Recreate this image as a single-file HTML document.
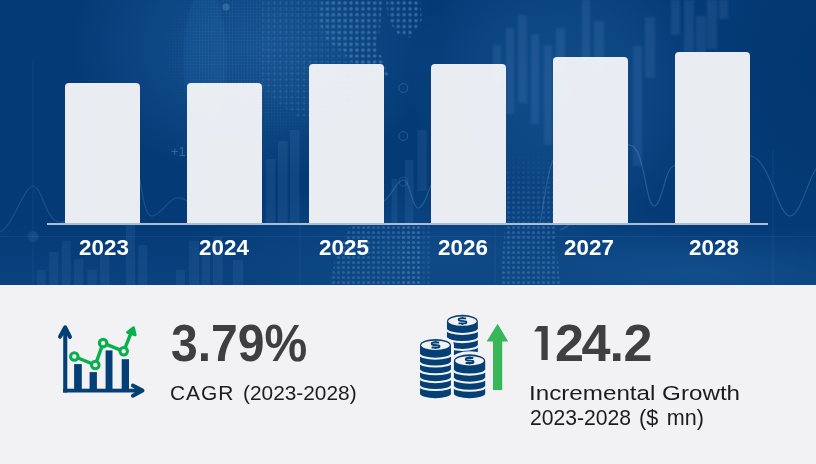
<!DOCTYPE html>
<html><head><meta charset="utf-8">
<style>
*{margin:0;padding:0;box-sizing:border-box}
html,body{width:816px;height:464px;overflow:hidden;background:#f2f2f4;font-family:"Liberation Sans",sans-serif}
#top{position:absolute;left:0;top:0;width:816px;height:285px;overflow:hidden;
 background:#073c79}
#bg{position:absolute;left:0;top:0;filter:blur(0.5px)}
.bar{position:absolute;width:75px;background:rgba(242,244,247,0.965);border-radius:4px 4px 0 0;bottom:62px}
#axis{position:absolute;left:47px;top:223px;width:721px;height:2px;background:#aabdd6}
.yr{position:absolute;top:236px;width:122px;text-align:center;color:#fff;font-weight:bold;font-size:21.5px;line-height:24px;transform:scaleX(1.04)}
.big{position:absolute;color:#3f3f3f;font-weight:bold;font-size:52px;line-height:52px;white-space:nowrap;transform-origin:0 0}
.lbl{position:absolute;color:#1c1c1c;font-size:20.5px;line-height:25.5px;white-space:nowrap;transform-origin:0 0}
svg.icon{position:absolute;left:0;top:0}
</style></head><body>
<div id="top">
 <svg id="bg" width="816" height="285" viewBox="0 0 816 285">
<defs>
<radialGradient id="g1" cx="0" cy="0" r="1" gradientUnits="userSpaceOnUse" gradientTransform="translate(255 45) scale(185 135)">
 <stop offset="0" stop-color="#2b6fb0" stop-opacity="0.42"/>
 <stop offset="0.6" stop-color="#2b6fb0" stop-opacity="0.2"/>
 <stop offset="1" stop-color="#2b6fb0" stop-opacity="0"/>
</radialGradient>
<radialGradient id="g2" cx="0" cy="0" r="1" gradientUnits="userSpaceOnUse" gradientTransform="translate(560 90) scale(150 150)">
 <stop offset="0" stop-color="#2b6fb0" stop-opacity="0.36"/>
 <stop offset="0.6" stop-color="#2b6fb0" stop-opacity="0.18"/>
 <stop offset="1" stop-color="#2b6fb0" stop-opacity="0"/>
</radialGradient>
<radialGradient id="g3" cx="0" cy="0" r="1" gradientUnits="userSpaceOnUse" gradientTransform="translate(450 250) scale(260 70)">
 <stop offset="0" stop-color="#2b6fb0" stop-opacity="0.25"/>
 <stop offset="1" stop-color="#2b6fb0" stop-opacity="0"/>
</radialGradient>
<radialGradient id="gr" cx="0" cy="0" r="1" gradientUnits="userSpaceOnUse" gradientTransform="translate(830 60) scale(130 170)">
 <stop offset="0" stop-color="#022f5e" stop-opacity="0.4"/>
 <stop offset="1" stop-color="#022f5e" stop-opacity="0"/>
</radialGradient>
<radialGradient id="g4" cx="0" cy="0" r="1" gradientUnits="userSpaceOnUse" gradientTransform="translate(700 272) scale(180 45)">
 <stop offset="0" stop-color="#2b6fb0" stop-opacity="0.3"/>
 <stop offset="1" stop-color="#2b6fb0" stop-opacity="0"/>
</radialGradient>
<linearGradient id="gb" x1="0" y1="0" x2="0" y2="1">
 <stop offset="0" stop-color="#2b6fb0" stop-opacity="0"/>
 <stop offset="0.78" stop-color="#2b6fb0" stop-opacity="0"/>
 <stop offset="1" stop-color="#2b6fb0" stop-opacity="0.14"/>
</linearGradient>
<pattern id="dots" x="0" y="0" width="5.9" height="5.9" patternUnits="userSpaceOnUse">
 <circle cx="2.95" cy="2.95" r="1.8" fill="#6a9dd0" fill-opacity="0.45"/>
</pattern>
<pattern id="dots2" x="0" y="0" width="3" height="3" patternUnits="userSpaceOnUse">
 <circle cx="1.5" cy="1.5" r="0.9" fill="#6a9dd0" fill-opacity="0.2"/>
</pattern>
<pattern id="dots3" x="1" y="0" width="5" height="5" patternUnits="userSpaceOnUse">
 <circle cx="2.5" cy="2.5" r="1.6" fill="#6a9dd0" fill-opacity="0.3"/>
</pattern>
<filter id="soft" x="-20%" y="-20%" width="140%" height="140%"><feGaussianBlur stdDeviation="1.3"/></filter>
<filter id="soft2" x="-20%" y="-20%" width="140%" height="140%"><feGaussianBlur stdDeviation="0.6"/></filter>
<radialGradient id="mg" cx="0" cy="0" r="1" gradientUnits="userSpaceOnUse" gradientTransform="translate(265 55) scale(110 90)">
 <stop offset="0" stop-color="#fff" stop-opacity="1"/>
 <stop offset="0.6" stop-color="#fff" stop-opacity="0.7"/>
 <stop offset="1" stop-color="#fff" stop-opacity="0"/>
</radialGradient>
<mask id="m1" maskUnits="userSpaceOnUse" x="0" y="0" width="816" height="285"><rect width="816" height="285" fill="url(#mg)"/></mask>
<linearGradient id="mg2" x1="0" y1="150" x2="0" y2="200" gradientUnits="userSpaceOnUse">
 <stop offset="0" stop-color="#fff" stop-opacity="0"/>
 <stop offset="1" stop-color="#fff" stop-opacity="1"/>
</linearGradient>
<mask id="m2" maskUnits="userSpaceOnUse" x="0" y="0" width="816" height="285"><rect width="816" height="285" fill="url(#mg2)"/></mask>
</defs>
<rect width="816" height="285" fill="#043b77"/>
<rect width="816" height="285" fill="url(#g1)"/>
<rect width="816" height="285" fill="url(#g2)"/>
<rect width="816" height="285" fill="url(#g3)"/>
<rect width="816" height="285" fill="url(#gb)"/>
<rect width="816" height="285" fill="url(#g4)"/>
<rect width="816" height="285" fill="url(#gr)"/>
<ellipse cx="205" cy="60" rx="22" ry="70" fill="#3a7cc0" fill-opacity="0.12" filter="url(#soft)"/>
<rect x="140" y="0" width="240" height="160" fill="url(#dots2)" mask="url(#m1)"/>
<g filter="url(#soft2)">
<path d="M322 0 L382 0 L380 30 L376 45 L383 60 L388 75 L378 82 L366 70 L352 62 L340 50 L326 40 L318 20 Z" fill="url(#dots)"/>
<path d="M386 0 L420 0 L422 20 L410 38 L398 34 L388 20 Z" fill="url(#dots)"/>
<path d="M262 0 L322 0 L318 20 L326 40 L340 50 L352 62 L366 70 L378 82 L372 110 L300 120 L262 90 Z" fill="url(#dots)" opacity="0.35"/>
</g>
<g filter="url(#soft)">
<rect x="493" y="45" width="8" height="40" fill="#6a9dd0" fill-opacity="0.15"/>
<rect x="506" y="28" width="8" height="86" fill="#6a9dd0" fill-opacity="0.15"/>
<rect x="518" y="15" width="9" height="88" fill="#6a9dd0" fill-opacity="0.15"/>
<rect x="531" y="34" width="8" height="90" fill="#6a9dd0" fill-opacity="0.15"/>
<rect x="544" y="45" width="8" height="100" fill="#6a9dd0" fill-opacity="0.15"/>
<rect x="556" y="28" width="9" height="41" fill="#6a9dd0" fill-opacity="0.15"/>
<rect x="582" y="0" width="8" height="59" fill="#6a9dd0" fill-opacity="0.15"/>
<rect x="594" y="21" width="10" height="48" fill="#6a9dd0" fill-opacity="0.15"/>
<rect x="633" y="46" width="9" height="120" fill="#6a9dd0" fill-opacity="0.15"/>
<rect x="645" y="17" width="10" height="61" fill="#6a9dd0" fill-opacity="0.15"/>
<rect x="671" y="0" width="9" height="35" fill="#6a9dd0" fill-opacity="0.15"/>
<rect x="684" y="0" width="10" height="52" fill="#6a9dd0" fill-opacity="0.15"/>
<rect x="696" y="16" width="10" height="38" fill="#6a9dd0" fill-opacity="0.15"/>
<rect x="707" y="0" width="10" height="49" fill="#6a9dd0" fill-opacity="0.15"/>
<rect x="719" y="0" width="9" height="19" fill="#6a9dd0" fill-opacity="0.15"/>
</g>
<rect x="265.7" y="159" width="9.7" height="64" fill="#6a9dd0" fill-opacity="0.12"/>
<rect x="278" y="141" width="9.7" height="82" fill="#6a9dd0" fill-opacity="0.12"/>
<rect x="290" y="130" width="9.6" height="93" fill="#6a9dd0" fill-opacity="0.12"/>
<rect x="391.5" y="179" width="6" height="44" fill="#6a9dd0" fill-opacity="0.12"/>
<rect x="405" y="160" width="8.5" height="63" fill="#6a9dd0" fill-opacity="0.12"/>
<rect x="417.4" y="130" width="9.4" height="61" fill="#6a9dd0" fill-opacity="0.12"/>
<rect x="36.7" y="270" width="9" height="15" fill="#6a9dd0" fill-opacity="0.11"/>
<rect x="49.3" y="252" width="9" height="33" fill="#6a9dd0" fill-opacity="0.11"/>
<rect x="61.7" y="240.7" width="9" height="44.30000000000001" fill="#6a9dd0" fill-opacity="0.11"/>
<rect x="74" y="259.3" width="9.3" height="25.69999999999999" fill="#6a9dd0" fill-opacity="0.11"/>
<rect x="87.3" y="270" width="9.4" height="15" fill="#6a9dd0" fill-opacity="0.11"/>
<rect x="100" y="255" width="9.3" height="30" fill="#6a9dd0" fill-opacity="0.11"/>
<rect x="126" y="225" width="9" height="60" fill="#6a9dd0" fill-opacity="0.11"/>
<rect x="138.3" y="245" width="9" height="40" fill="#6a9dd0" fill-opacity="0.11"/>
<rect x="176" y="270" width="9" height="15" fill="#6a9dd0" fill-opacity="0.11"/>
<rect x="189" y="240.7" width="10" height="44.30000000000001" fill="#6a9dd0" fill-opacity="0.11"/>
<rect x="201.7" y="255" width="8.3" height="30" fill="#6a9dd0" fill-opacity="0.11"/>
<rect x="213" y="237" width="9.7" height="48" fill="#6a9dd0" fill-opacity="0.11"/>
<rect x="233" y="260" width="10" height="25" fill="#6a9dd0" fill-opacity="0.11"/>
<path d="M350 226 L420 226 L420 285 L330 285 L335 260 Z" fill="url(#dots3)"/>
<path d="M505 226 L555 226 L560 285 L500 285 Z" fill="url(#dots3)"/>
<rect x="506" y="140" width="47" height="84" fill="url(#dots3)" opacity="0.7" mask="url(#m2)"/>
<path d="M540 224 C544 200 548 170 553 160" stroke="#7aa6d6" fill="none" stroke-width="1.2" stroke-opacity="0.25"/>
<rect x="400" y="226" width="30" height="59" fill="url(#dots3)" opacity="0.5"/>
<path d="M560 230 C590 220 600 150 628 145 C645 142 645 206 654 206 C662 206 665 170 672 167 C700 150 730 150 751 156 C770 160 778 216 790 216 C800 216 808 180 816 169" stroke="#7aa6d6" fill="none" stroke-width="1.2" stroke-opacity="0.28"/>
<path d="M0 232 C12 228 24 186 33 186 C42 186 46 222 60 222 C70 222 80 215 90 205" stroke="#7aa6d6" fill="none" stroke-width="1.2" stroke-opacity="0.2"/>
<path d="M140 180 C143 200 146 216 152 216 C160 216 168 200 176 198 C182 197 186 200 188 202" stroke="#7aa6d6" fill="none" stroke-width="1.2" stroke-opacity="0.2"/>
<path d="M384 201 C392 196 396 181 403 180 C410 179 412 208 418 208 C424 208 428 192 431 185" stroke="#7aa6d6" fill="none" stroke-width="1.2" stroke-opacity="0.25"/>
<path d="M0 236.5 H816 M33 60 V285 M773 150 V285 M300 225 V285 M495 225 V285" stroke="#7aa6d6" stroke-opacity="0.1" stroke-width="1"/>
<circle cx="33" cy="236.5" r="5.5" fill="#7aa6d6" fill-opacity="0.12"/>
<text x="171" y="155.5" font-family="Liberation Sans" font-size="13" fill="#7aa6d6" fill-opacity="0.4">+1.1,000%</text>
<circle cx="226" cy="7" r="3.5" fill="#7aa6d6" fill-opacity="0.3"/>
<circle cx="403.3" cy="136" r="4.5" fill="none" stroke="#7aa6d6" stroke-opacity="0.28"/>
<circle cx="403.3" cy="88" r="4.5" fill="none" stroke="#7aa6d6" stroke-opacity="0.28"/>
<circle cx="403.3" cy="181.5" r="4.5" fill="none" stroke="#7aa6d6" stroke-opacity="0.22"/>
</svg>
 <div class="bar" style="left:65px;height:140px"></div>
 <div class="bar" style="left:187px;height:140px"></div>
 <div class="bar" style="left:309px;height:159px"></div>
 <div class="bar" style="left:431px;height:159px"></div>
 <div class="bar" style="left:553px;height:166px"></div>
 <div class="bar" style="left:675px;height:171px"></div>
 <div id="axis"></div>
 <div class="yr" style="left:42.65px">2023</div>
 <div class="yr" style="left:162.75px">2024</div>
 <div class="yr" style="left:282.65px">2025</div>
 <div class="yr" style="left:402.3px">2026</div>
 <div class="yr" style="left:527.75px">2027</div>
 <div class="yr" style="left:652.5px">2028</div>
</div>
<div class="big" style="left:170.5px;top:317px;transform:scaleX(0.925)">3.79%</div>
<div class="lbl" style="left:169.5px;top:380px;transform:scaleX(1.02);letter-spacing:1px">CAGR</div>
<div class="lbl" style="left:242.5px;top:380px;transform:scaleX(1.017)">(2023-2028)</div>
<div class="big" style="left:554.5px;top:317px;transform:scaleX(1.003);letter-spacing:-2.6px">24<span style="margin-left:1.8px;letter-spacing:-0.6px">.</span>2</div>
<div class="lbl" style="left:529px;top:380px;transform:scaleX(1.18)">Incremental Growth</div>
<div class="lbl" style="left:529.5px;top:406px;font-size:21.5px;transform:scaleX(0.983)">2023-2028</div>
<div class="lbl" style="left:639px;top:406px;font-size:21.5px;transform:scaleX(1.003);word-spacing:2.5px">($ mn)</div>
<svg class="icon" width="816" height="464" viewBox="0 0 816 464">
<g fill="#043f75">
<rect x="63.2" y="332" width="4.1" height="60.5"/>
<rect x="63.2" y="388.7" width="76" height="3.8"/>
<path d="M60 336.8 L65.2 327.3 L70 336.9" fill="none" stroke="#043f75" stroke-width="4" stroke-linecap="round" stroke-linejoin="round"/>
<path d="M61 335 L65.2 327.3 L69 335 Z" fill="#043f75"/>
<path d="M132.9 385.6 L142.5 390.6 L132.9 395.7" fill="none" stroke="#043f75" stroke-width="4" stroke-linecap="round" stroke-linejoin="round"/>
<path d="M134.5 386.6 L142.5 390.6 L134.5 394.6 Z" fill="#043f75"/>
<rect x="74.1" y="364.1" width="7.7" height="24.9"/>
<rect x="89.6" y="372.1" width="7.3" height="16.9"/>
<rect x="105.6" y="350.4" width="6.9" height="38.6"/>
<rect x="121.7" y="359.2" width="7.3" height="29.8"/>
</g>
<polyline points="74.3,356.5 95.3,365 103.1,343.1 123.7,351.3 131,333" fill="none" stroke="#06b04e" stroke-width="3.4"/>
<path d="M133.6 327.6 L135.3 334.9 L127.4 332.4 Z" fill="#06b04e" stroke="#06b04e" stroke-width="2.6" stroke-linejoin="round"/>
<circle cx="74.3" cy="356.5" r="3.75" fill="#f2f2f4" stroke="#06b04e" stroke-width="3.1"/>
<circle cx="95.3" cy="365" r="3.75" fill="#f2f2f4" stroke="#06b04e" stroke-width="3.1"/>
<circle cx="103.1" cy="343.1" r="3.75" fill="#f2f2f4" stroke="#06b04e" stroke-width="3.1"/>
<circle cx="123.7" cy="351.3" r="3.75" fill="#f2f2f4" stroke="#06b04e" stroke-width="3.1"/>
<path d="M446.95 321.20 A15.45 6.40 0 0 1 477.85 321.20 L477.85 351.40 A15.45 4.6 0 0 1 446.95 351.40 Z" fill="#043f75"/>
<ellipse cx="462.4" cy="321.2" rx="14.15" ry="4.6" fill="#f2f2f4"/>
<path d="M446.45 329.35 A15.95 4.6 0 0 0 478.35 329.35" fill="none" stroke="#f2f2f4" stroke-width="2.1"/>
<path d="M446.45 337.50 A15.95 4.6 0 0 0 478.35 337.50" fill="none" stroke="#f2f2f4" stroke-width="2.1"/>
<path d="M446.45 345.35 A15.95 4.6 0 0 0 478.35 345.35" fill="none" stroke="#f2f2f4" stroke-width="2.1"/>
<path d="M466.10 318.40 L460.80 318.40 C457.90 318.40 457.90 320.80 460.80 320.90 L464.20 321.10 C467.10 321.20 467.10 323.40 464.20 323.40 L458.50 323.40 M462.40 316.80 V318.40 M462.40 323.40 V324.90" fill="none" stroke="#043f75" stroke-width="1.85"/>
<path d="M420.00 345.30 A15.5 6.30 0 0 1 451.00 345.30 L451.00 393.60 A15.5 4.6 0 0 1 420.00 393.60 Z" fill="#f2f2f4" stroke="#f2f2f4" stroke-width="6"/>
<path d="M420.00 345.30 A15.5 6.30 0 0 1 451.00 345.30 L451.00 393.60 A15.5 4.6 0 0 1 420.00 393.60 Z" fill="#043f75"/>
<ellipse cx="435.5" cy="345.3" rx="14.20" ry="4.6" fill="#f2f2f4"/>
<path d="M419.50 354.10 A16.0 4.6 0 0 0 451.50 354.10" fill="none" stroke="#f2f2f4" stroke-width="2.1"/>
<path d="M419.50 361.90 A16.0 4.6 0 0 0 451.50 361.90" fill="none" stroke="#f2f2f4" stroke-width="2.1"/>
<path d="M419.50 369.70 A16.0 4.6 0 0 0 451.50 369.70" fill="none" stroke="#f2f2f4" stroke-width="2.1"/>
<path d="M419.50 377.60 A16.0 4.6 0 0 0 451.50 377.60" fill="none" stroke="#f2f2f4" stroke-width="2.1"/>
<path d="M419.50 385.40 A16.0 4.6 0 0 0 451.50 385.40" fill="none" stroke="#f2f2f4" stroke-width="2.1"/>
<path d="M439.20 342.50 L433.90 342.50 C431.00 342.50 431.00 344.90 433.90 345.00 L437.30 345.20 C440.20 345.30 440.20 347.50 437.30 347.50 L431.60 347.50 M435.50 340.90 V342.50 M435.50 347.50 V349.00" fill="none" stroke="#043f75" stroke-width="1.85"/>
<path d="M453.90 360.80 A15.65 6.50 0 0 1 485.20 360.80 L485.20 393.60 A15.65 4.6 0 0 1 453.90 393.60 Z" fill="#f2f2f4" stroke="#f2f2f4" stroke-width="6"/>
<path d="M453.90 360.80 A15.65 6.50 0 0 1 485.20 360.80 L485.20 393.60 A15.65 4.6 0 0 1 453.90 393.60 Z" fill="#043f75"/>
<ellipse cx="469.55" cy="360.8" rx="14.35" ry="4.6" fill="#f2f2f4"/>
<path d="M453.40 370.00 A16.15 4.6 0 0 0 485.70 370.00" fill="none" stroke="#f2f2f4" stroke-width="2.1"/>
<path d="M453.40 378.10 A16.15 4.6 0 0 0 485.70 378.10" fill="none" stroke="#f2f2f4" stroke-width="2.1"/>
<path d="M453.40 386.20 A16.15 4.6 0 0 0 485.70 386.20" fill="none" stroke="#f2f2f4" stroke-width="2.1"/>
<path d="M473.25 358.00 L467.95 358.00 C465.05 358.00 465.05 360.40 467.95 360.50 L471.35 360.70 C474.25 360.80 474.25 363.00 471.35 363.00 L465.65 363.00 M469.55 356.40 V358.00 M469.55 363.00 V364.50" fill="none" stroke="#043f75" stroke-width="1.85"/>
<path d="M497.6 323.7 L508.2 341.4 L502.2 341.4 L502.2 390.1 L493 390.1 L493 341.4 L486.6 341.4 Z" fill="#37b757"/>
<path d="M538 326.1 L547.7 326.1 L547.7 360 L541.4 360 L541.4 331.5 L534.1 331.5 Z" fill="#3f3f3f"/>
</svg>
</body></html>
